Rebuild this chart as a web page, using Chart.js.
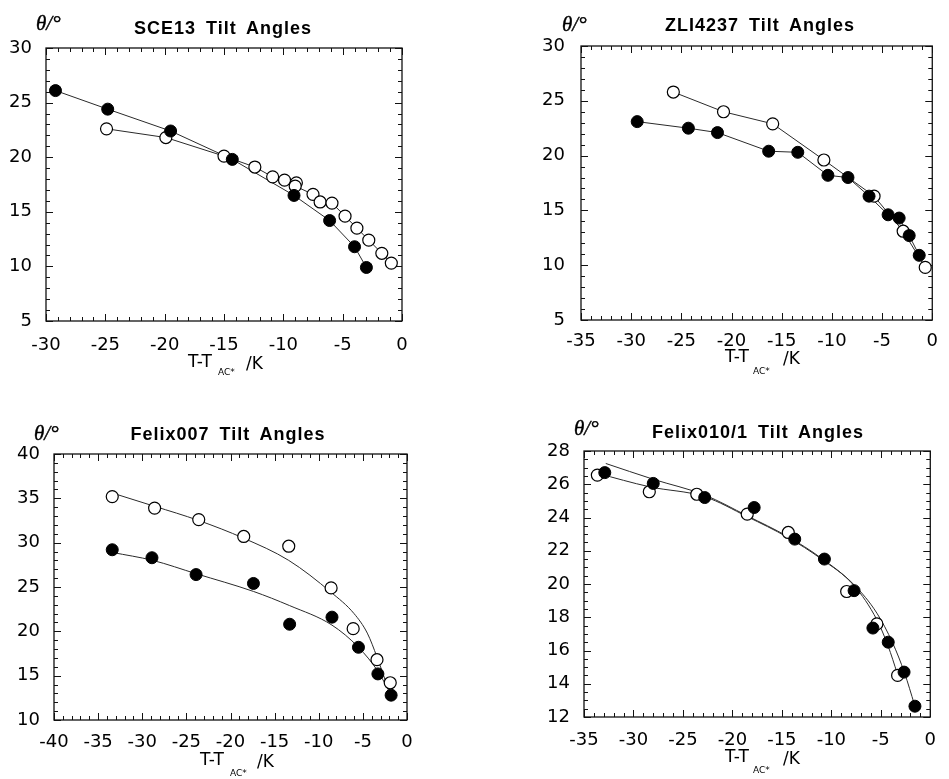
<!DOCTYPE html>
<html>
<head>
<meta charset="utf-8">
<script src="https://cdn.jsdelivr.net/npm/chart.js@4/dist/chart.umd.min.js"></script>
<style>
  html, body { margin:0; padding:0; background:#fff; }
  #wrap { position:relative; width:949px; height:779px; overflow:hidden; background:#fff; }
  canvas.c { position:absolute; left:0; top:0; }
  .t { position:absolute; font:bold 18px "Liberation Sans", Arial, sans-serif; letter-spacing:1px; word-spacing:4px; line-height:18px; white-space:nowrap; transform:translateX(-50%); color:#000; }
  .th { position:absolute; font:italic 21px "Liberation Serif", serif; line-height:21px; white-space:nowrap; color:#000; -webkit-text-stroke:0.4px #000; }
  .xl { position:absolute; font:17px "DejaVu Sans", sans-serif; line-height:17px; white-space:nowrap; color:#000; }
  .sub { position:absolute; font:9px "DejaVu Sans", sans-serif; line-height:9px; white-space:nowrap; color:#000; }
</style>
</head>
<body>
<div id="wrap">
  <canvas class="c" id="c1" width="949" height="779"></canvas>
  <canvas class="c" id="c2" width="949" height="779"></canvas>
  <canvas class="c" id="c3" width="949" height="779"></canvas>
  <canvas class="c" id="c4" width="949" height="779"></canvas>

  <div class="t" style="left:223px;top:19px;">SCE13 Tilt Angles</div>
  <div class="t" style="left:760px;top:16px;">ZLI4237 Tilt Angles</div>
  <div class="t" style="left:228px;top:425px;">Felix007 Tilt Angles</div>
  <div class="t" style="left:758px;top:423px;">Felix010/1 Tilt Angles</div>

  <div class="th" style="left:36px;top:13px;">θ/°</div>
  <div class="th" style="left:562px;top:14px;">θ/°</div>
  <div class="th" style="left:34px;top:423px;">θ/°</div>
  <div class="th" style="left:574px;top:418px;">θ/°</div>

  <div class="xl" style="left:188px;top:353px;">T-T</div>
  <div class="sub" style="left:218px;top:368px;">AC*</div>
  <div class="xl" style="left:246px;top:355px;">/K</div>

  <div class="xl" style="left:725px;top:348px;">T-T</div>
  <div class="sub" style="left:753px;top:367px;">AC*</div>
  <div class="xl" style="left:783px;top:350px;">/K</div>

  <div class="xl" style="left:200px;top:751px;">T-T</div>
  <div class="sub" style="left:230px;top:769px;">AC*</div>
  <div class="xl" style="left:257px;top:753px;">/K</div>

  <div class="xl" style="left:725px;top:748px;">T-T</div>
  <div class="sub" style="left:753px;top:766px;">AC*</div>
  <div class="xl" style="left:783px;top:750px;">/K</div>
</div>
<script>
// ---------- Data ----------
// SCE13
const sceFilledT     = [-29.2, -24.8, -19.5, -14.3, -9.1, -6.1, -4.0, -3.0];
const sceFilledTheta = [26.1, 24.4, 22.4, 19.8, 16.5, 14.2, 11.8, 9.9];
const sceOpenT       = [-24.9, -19.9, -15.0, -12.4, -10.9, -9.9, -8.9, -9.0, -7.5, -6.9, -5.9, -4.8, -3.8, -2.8, -1.7, -0.9];
const sceOpenTheta   = [22.6, 21.8, 20.1, 19.1, 18.2, 17.9, 17.65, 17.35, 16.6, 15.9, 15.8, 14.6, 13.5, 12.4, 11.2, 10.3];
const sceXTicks = [-30, -25, -20, -15, -10, -5, 0];
const sceYTicks = [5, 10, 15, 20, 25, 30];

// ZLI4237
const zliFilledT     = [-29.4, -24.3, -21.4, -16.3, -13.4, -10.4, -8.4, -6.3, -4.4, -3.3, -2.3, -1.3];
const zliFilledTheta = [23.1, 22.5, 22.1, 20.4, 20.3, 18.2, 18.0, 16.3, 14.6, 14.3, 12.7, 10.9];
const zliOpenT       = [-25.8, -20.8, -15.9, -10.8, -5.8, -2.9, -0.7];
const zliOpenTheta   = [25.8, 24.0, 22.9, 19.6, 16.3, 13.1, 9.8];
const zliXTicks = [-35, -30, -25, -20, -15, -10, -5, 0];
const zliYTicks = [5, 10, 15, 20, 25, 30];

// Felix007
const f7FilledT      = [-33.4, -28.9, -23.9, -17.4, -13.3, -8.5, -5.5, -3.3, -1.8];
const f7FilledTheta  = [29.2, 28.3, 26.4, 25.4, 20.8, 21.6, 18.2, 15.2, 12.8];
const f7OpenT        = [-33.4, -28.6, -23.6, -18.5, -13.4, -8.6, -6.1, -3.4, -1.9];
const f7OpenTheta    = [35.2, 33.9, 32.6, 30.7, 29.6, 24.9, 20.3, 16.8, 14.2];
const f7FitOpenT      = [-33.4, -28.6, -23.6, -18.5, -13.4, -8.6, -6.0, -4.5, -3.4, -2.4];
const f7FitOpenTheta  = [35.6, 34.1, 32.5, 30.5, 28.0, 24.4, 22.0, 19.8, 17.1, 14.3];
const f7FitFilledT     = [-33.4, -28.8, -23.9, -17.4, -13.3, -8.5, -5.5, -3.3, -2.0];
const f7FitFilledTheta = [28.9, 28.0, 26.5, 24.5, 22.9, 20.7, 18.2, 15.5, 13.2];
const f7XTicks = [-40, -35, -30, -25, -20, -15, -10, -5, 0];
const f7YTicks = [10, 15, 20, 25, 30, 35, 40];

// Felix010/1
const f10FilledT      = [-32.9, -28.0, -22.8, -17.8, -13.7, -10.7, -7.7, -5.8, -4.25, -2.65, -1.55];
const f10FilledTheta  = [26.7, 26.05, 25.2, 24.6, 22.7, 21.5, 19.6, 17.35, 16.5, 14.7, 12.65];
const f10OpenT        = [-33.65, -28.4, -23.6, -18.5, -14.35, -8.45, -5.4, -3.3];
const f10OpenTheta    = [26.55, 25.55, 25.4, 24.2, 23.1, 19.55, 17.6, 14.5];
const f10FitFilledT     = [-32.8, -28.0, -22.8, -18.5, -14.4, -11.0, -7.7, -5.4, -3.8, -2.6, -1.6];
const f10FitFilledTheta = [27.25, 26.3, 25.35, 24.1, 22.85, 21.55, 19.95, 18.25, 16.45, 14.65, 12.75];
const f10FitOpenT       = [-33.6, -28.4, -22.8, -18.5, -14.4, -11.0, -7.7, -5.4, -4.25, -3.35];
const f10FitOpenTheta   = [26.65, 25.85, 25.25, 24.05, 22.8, 21.5, 19.9, 17.85, 16.25, 14.65];
const f10XTicks = [-35, -30, -25, -20, -15, -10, -5, 0];
const f10YTicks = [12, 14, 16, 18, 20, 22, 24, 26, 28];

// ---------- helpers ----------
const pts = (xs, ys) => xs.map((x, i) => ({ x: x, y: ys[i] }));

const frameTicks = {
  id: 'frameTicks',
  beforeDatasetsDraw(chart, args, opts) {
    const { ctx, chartArea: { left, right, top, bottom }, scales: { x, y } } = chart;
    ctx.save();
    ctx.strokeStyle = '#111';
    ctx.lineWidth = 1.3;
    ctx.strokeRect(left, top, right - left, bottom - top);
    ctx.lineWidth = 1;
    ctx.beginPath();
    const isMajor = (v, m) => Math.abs(v / m - Math.round(v / m)) < 1e-6;
    for (let v = x.min; v <= x.max + 1e-9; v += opts.xMinor) {
      const px = Math.round(x.getPixelForValue(v)) + 0.5;
      const L = isMajor(v, opts.xMajor) ? 7 : 4;
      ctx.moveTo(px, bottom); ctx.lineTo(px, bottom - L);
      ctx.moveTo(px, top); ctx.lineTo(px, top + L);
    }
    for (let v = y.min; v <= y.max + 1e-9; v += opts.yMinor) {
      const py = Math.round(y.getPixelForValue(v)) + 0.5;
      const L = isMajor(v, opts.yMajor) ? 7 : 4;
      ctx.moveTo(left, py); ctx.lineTo(left + L, py);
      ctx.moveTo(right, py); ctx.lineTo(right - L, py);
    }
    ctx.stroke();
    ctx.restore();
  }
};

const tickFont = { family: '"DejaVu Sans", sans-serif', size: 18 };

function lineDs(data, tension) {
  return { type: 'line', data: data, borderColor: '#2a2a2a', borderWidth: 1, pointRadius: 0,
           tension: tension, cubicInterpolationMode: tension ? 'monotone' : 'default', fill: false, order: 3, clip: false };
}
function filledDs(data) {
  return { type: 'scatter', data: data, backgroundColor: '#000', borderColor: '#000', borderWidth: 1,
           pointRadius: 6, showLine: false, order: 1, clip: false };
}
function openDs(data) {
  return { type: 'scatter', data: data, backgroundColor: '#fff', borderColor: '#000', borderWidth: 1.2,
           pointRadius: 6, showLine: false, order: 2, clip: false };
}

function makeChart(id, P, datasets, xTicks, yTicks, xPad, yPad, minor) {
  const xMin = xTicks[0], xMax = xTicks[xTicks.length - 1];
  const yMin = yTicks[0], yMax = yTicks[yTicks.length - 1];
  new Chart(document.getElementById(id), {
    type: 'scatter',
    data: { datasets: datasets },
    options: {
      responsive: false,
      animation: false,
      devicePixelRatio: 1,
      layout: { padding: { left: 0, top: P.top, right: 949 - P.right, bottom: 0 } },
      plugins: { legend: { display: false }, tooltip: { enabled: false }, title: { display: false },
                 frameTicks: minor },
      scales: {
        x: {
          type: 'linear', min: xMin, max: xMax, position: 'bottom',
          grid: { display: false, drawTicks: false }, border: { display: false },
          afterBuildTicks: s => { s.ticks = xTicks.map(v => ({ value: v })); },
          afterFit: s => { s.height = 779 - P.bottom; },
          ticks: { font: tickFont, color: '#000', padding: xPad, maxRotation: 0, autoSkip: false,
                   callback: v => String(v) }
        },
        y: {
          type: 'linear', min: yMin, max: yMax, position: 'left',
          grid: { display: false, drawTicks: false }, border: { display: false },
          afterBuildTicks: s => { s.ticks = yTicks.map(v => ({ value: v })); },
          afterFit: s => { s.width = P.left; },
          ticks: { font: tickFont, color: '#000', padding: yPad, autoSkip: false,
                   callback: v => String(v) }
        }
      }
    },
    plugins: [frameTicks]
  });
}

// SCE13
makeChart('c1', { left: 46, right: 402, top: 48, bottom: 321 }, [
  lineDs(pts(sceFilledT, sceFilledTheta), 0),
  lineDs(pts(sceOpenT, sceOpenTheta), 0),
  openDs(pts(sceOpenT, sceOpenTheta)),
  filledDs(pts(sceFilledT, sceFilledTheta))
], sceXTicks, sceYTicks, 14, 14, { xMinor: 1, xMajor: 5, yMinor: 1, yMajor: 5 });

// ZLI4237
makeChart('c2', { left: 581, right: 941, top: 46, bottom: 320 }, [
  lineDs(pts(zliFilledT, zliFilledTheta), 0),
  lineDs(pts(zliOpenT, zliOpenTheta), 0),
  openDs(pts(zliOpenT, zliOpenTheta)),
  filledDs(pts(zliFilledT, zliFilledTheta))
], zliXTicks, zliYTicks, 11, 16, { xMinor: 1, xMajor: 5, yMinor: 1, yMajor: 5 });

// Felix007
makeChart('c3', { left: 54, right: 407, top: 454, bottom: 720 }, [
  lineDs(pts(f7FitFilledT, f7FitFilledTheta), 0.4),
  lineDs(pts(f7FitOpenT, f7FitOpenTheta), 0.4),
  openDs(pts(f7OpenT, f7OpenTheta)),
  filledDs(pts(f7FilledT, f7FilledTheta))
], f7XTicks, f7YTicks, 12, 14, { xMinor: 1, xMajor: 5, yMinor: 1, yMajor: 5 });

// Felix010/1
makeChart('c4', { left: 584, right: 940, top: 451, bottom: 717 }, [
  lineDs(pts(f10FitFilledT, f10FitFilledTheta), 0.4),
  lineDs(pts(f10FitOpenT, f10FitOpenTheta), 0.4),
  openDs(pts(f10OpenT, f10OpenTheta)),
  filledDs(pts(f10FilledT, f10FilledTheta))
], f10XTicks, f10YTicks, 13, 14, { xMinor: 1, xMajor: 5, yMinor: 0.5, yMajor: 2 });
</script>
</body>
</html>
